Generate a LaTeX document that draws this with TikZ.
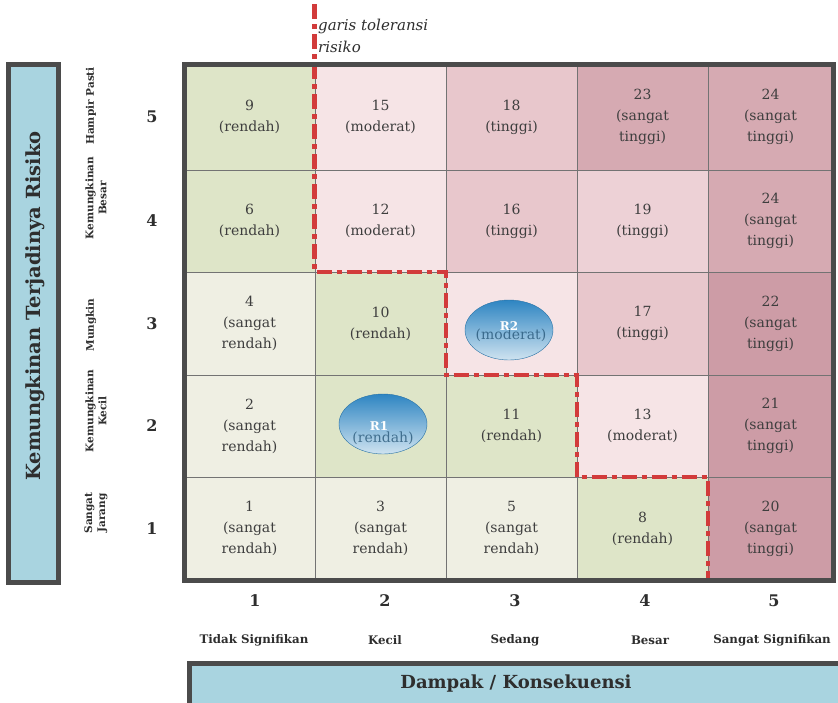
\documentclass[tikz,border=0pt]{standalone}
\usepackage{fontspec}
\setmainfont{DejaVu Serif}
\usetikzlibrary{shapes.geometric}

\definecolor{framegray}{HTML}{4B4B4B}
\definecolor{axisblue}{HTML}{A9D4E0}
\definecolor{sr}{HTML}{EFEFE3}
\definecolor{rd}{HTML}{DEE5C8}
\definecolor{md}{HTML}{F6E4E6}
\definecolor{tg}{HTML}{E8C7CC}
\definecolor{tgl}{HTML}{EDD1D6}
\definecolor{st}{HTML}{D6AAB2}
\definecolor{std}{HTML}{CD9CA6}
\definecolor{tolred}{HTML}{D23B3B}
\definecolor{celltxt}{HTML}{3E3E3E}
\definecolor{labeltxt}{HTML}{2E2E2E}
\definecolor{bubtop}{HTML}{2E85C2}
\definecolor{bubmid}{HTML}{4FA6D8}
\definecolor{bubbot}{HTML}{CFE3F0}

\begin{document}
\begin{tikzpicture}[x=1pt,y=-1pt,
  frame/.style={draw=framegray,line width=5pt},
  gridline/.style={draw=black!55,line width=0.7pt},
  celltext/.style={align=center,text=celltxt,inner sep=0pt,
    font=\fontsize{14}{21}\selectfont},
  rowlabel/.style={rotate=90,align=center,text=labeltxt,inner sep=0pt,
    font=\fontsize{10.5}{13}\selectfont\bfseries},
  axisnum/.style={text=labeltxt,inner sep=0pt,font=\fontsize{16}{18}\selectfont\bfseries},
  collabel/.style={text=labeltxt,inner sep=0pt,font=\fontsize{11.8}{14}\selectfont\bfseries},
  axistitle/.style={text=labeltxt,inner sep=0pt,font=\fontsize{18}{21}\selectfont\bfseries},
  tolerance/.style={draw=tolred,line width=4.5pt,
    dash pattern=on 15pt off 5pt on 5pt off 5pt},
  bubble/.style={ellipse,minimum width=88pt,minimum height=60pt,inner sep=0pt,
    top color=bubtop,middle color=bubmid,bottom color=bubbot,
    draw=bubtop!85!black,line width=0.4pt},
  bubtext/.style={text=white,inner sep=0pt,font=\fontsize{12}{14}\selectfont\bfseries},
  undertext/.style={text=bubtop!55!black,opacity=0.7,inner sep=0pt,
    font=\fontsize{14}{21}\selectfont}]

\clip (0,0) rectangle (838,702);
\fill[white] (0,0) rectangle (838,702);

% risk matrix cells: column / row / colour / text
\foreach \c/\r/\fc/\txt in {
  1/5/rd/{9\\(rendah)}, 2/5/md/{15\\(moderat)}, 3/5/tg/{18\\(tinggi)},
  4/5/st/{23\\(sangat\\tinggi)}, 5/5/st/{24\\(sangat\\tinggi)},
  1/4/rd/{6\\(rendah)}, 2/4/md/{12\\(moderat)}, 3/4/tg/{16\\(tinggi)},
  4/4/tgl/{19\\(tinggi)}, 5/4/st/{24\\(sangat\\tinggi)},
  1/3/sr/{4\\(sangat\\rendah)}, 2/3/rd/{10\\(rendah)}, 3/3/md/{},
  4/3/tg/{17\\(tinggi)}, 5/3/std/{22\\(sangat\\tinggi)},
  1/2/sr/{2\\(sangat\\rendah)}, 2/2/rd/{}, 3/2/rd/{11\\(rendah)},
  4/2/md/{13\\(moderat)}, 5/2/std/{21\\(sangat\\tinggi)},
  1/1/sr/{1\\(sangat\\rendah)}, 2/1/sr/{3\\(sangat\\rendah)}, 3/1/sr/{5\\(sangat\\rendah)},
  4/1/rd/{8\\(rendah)}, 5/1/std/{20\\(sangat\\tinggi)}}{
  \pgfmathsetmacro\xa{{184,315,446,577,708,833}[\c-1]}
  \pgfmathsetmacro\xb{{184,315,446,577,708,833}[\c]}
  \pgfmathsetmacro\ya{{64,170,272,375,477,580}[5-\r]}
  \pgfmathsetmacro\yb{{64,170,272,375,477,580}[6-\r]}
  \fill[\fc] (\xa,\ya) rectangle (\xb,\yb);
  \node[celltext] (cell-\c-\r) at ({(\xa+\xb)/2},{(\ya+\yb)/2}) {\txt};
}

% inner grid lines
\foreach \x in {315,446,577,708} \draw[gridline] (\x,64) -- (\x,580);
\foreach \y in {170,272,375,477} \draw[gridline] (184,\y) -- (833,\y);

% risk bubbles
\node[bubble] (r1) at (383,424) {};
\node[undertext] (r1cat) at (383,438) {(rendah)};
\node[bubtext] (r1lbl) at (379,426) {R1};
\node[bubble] (r2) at (509,330) {};
\node[undertext] (r2cat) at (511,335) {(moderat)};
\node[bubtext] (r2lbl) at (509,326) {R2};

% risk tolerance line
\coordinate (t0) at (314.5,4);
\coordinate (t1) at (314.5,272);
\coordinate (t2) at (446,272);
\coordinate (t3) at (446,375);
\coordinate (t4) at (577,375);
\coordinate (t5) at (577,477);
\coordinate (t6) at (708,477);
\coordinate (t7) at (708,578);
\draw[tolerance] (t0) -- (t1) -- (t2) -- (t3) -- (t4) -- (t5) -- (t6) -- (t7);
\node[anchor=west,align=left,inner sep=0pt,text=labeltxt,
  font=\fontsize{15}{22}\selectfont\itshape] (tollbl) at (318,36)
  {garis toleransi\\risiko};

% matrix frame
\draw[frame] (184,64) rectangle (833,580);

% likelihood axis
\draw[frame,fill=axisblue] (8.5,64) rectangle (58,582);
\node[rotate=90,axistitle,font=\fontsize{19.5}{22}\selectfont\bfseries] (ytitle) at (35,306)
  {Kemungkinan Terjadinya Risiko};
\node[rowlabel] (lab5) at (91,106) {Hampir Pasti};
\node[rowlabel] (lab4) at (96,198) {Kemungkinan\\Besar};
\node[rowlabel] (lab3) at (91,325) {Mungkin};
\node[rowlabel] (lab2) at (96,411) {Kemungkinan\\Kecil};
\node[rowlabel] (lab1) at (96,513) {Sangat\\Jarang};
\node[axisnum] (num5) at (152,117) {5};
\node[axisnum] (num4) at (152,221) {4};
\node[axisnum] (num3) at (152,324) {3};
\node[axisnum] (num2) at (152,426) {2};
\node[axisnum] (num1) at (152,529) {1};

% impact axis
\node[axisnum] (imp1) at (255,601) {1};
\node[axisnum] (imp2) at (385,601) {2};
\node[axisnum] (imp3) at (515,601) {3};
\node[axisnum] (imp4) at (645,601) {4};
\node[axisnum] (imp5) at (774,601) {5};
\node[collabel] (cl1) at (254,640) {Tidak Signifikan};
\node[collabel] (cl2) at (385,640) {Kecil};
\node[collabel] (cl3) at (515,640) {Sedang};
\node[collabel] (cl4) at (650,640) {Besar};
\node[collabel] (cl5) at (772,640) {Sangat Signifikan};
\draw[frame,fill=axisblue] (189.5,663.5) rectangle (850,715);
\node[axistitle] (xtitle) at (516,684) {Dampak / Konsekuensi};

\end{tikzpicture}
\end{document}
